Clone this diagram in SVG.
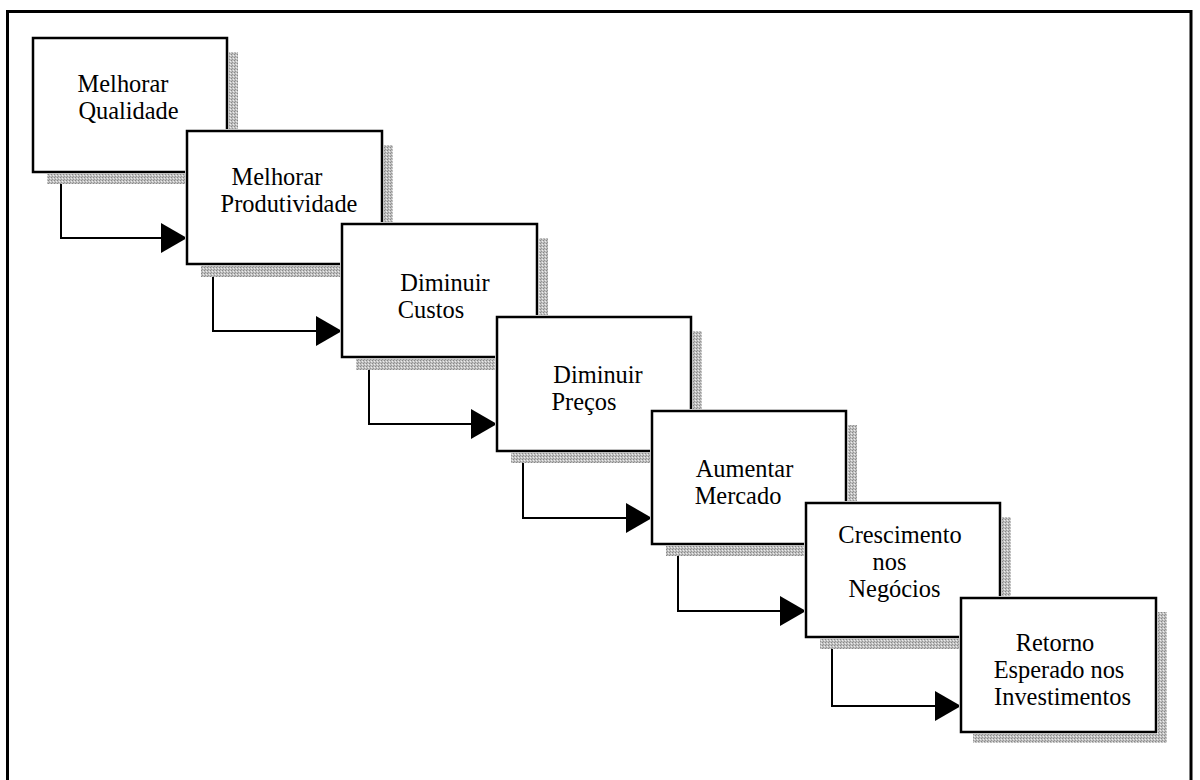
<svg xmlns="http://www.w3.org/2000/svg" width="1200" height="780" viewBox="0 0 1200 780">
  <defs>
    <!-- speckled grey used for the drop shadows -->
    <pattern id="dither" width="3" height="3" patternUnits="userSpaceOnUse">
      <rect width="3" height="3" fill="#c0c0c0"/>
      <rect x="0" y="0" width="1" height="1" fill="#888"/>
      <rect x="2" y="1" width="1" height="1" fill="#eee"/>
      <rect x="1" y="2" width="1" height="1" fill="#969696"/>
    </pattern>
    <marker id="arrow" markerUnits="userSpaceOnUse" markerWidth="26" markerHeight="30" viewBox="0 0 26 30" refX="26" refY="15" orient="auto">
      <path d="M0,0 L26,15 L0,30 Z" fill="#000"/>
    </marker>
    <style>
      .shadow { fill: url(#dither); }
      .gap { fill: #fff; }
      .box { fill: #fff; stroke: #000; stroke-width: 2.5; }
      .label { font-family: "Liberation Serif", "Times New Roman", serif; font-size: 24.4px; fill: #000; text-anchor: middle; }
      .link { fill: none; stroke: #000; stroke-width: 2; }
    </style>
  </defs>

  <rect width="1200" height="780" fill="#fff"/>
  <!-- outer frame (runs off the bottom edge) -->
  <rect x="7.5" y="11.5" width="1183.5" height="800" fill="none" stroke="#000" stroke-width="3"/>

  <g id="connectors">
    <path class="link" d="M61,183 V238 H187" marker-end="url(#arrow)"/>
    <path class="link" d="M213,277 V331 H342" marker-end="url(#arrow)"/>
    <path class="link" d="M369,370 V424 H497" marker-end="url(#arrow)"/>
    <path class="link" d="M523,463 V518 H652" marker-end="url(#arrow)"/>
    <path class="link" d="M678,556 V611 H806" marker-end="url(#arrow)"/>
    <path class="link" d="M832,649 V706 H961" marker-end="url(#arrow)"/>
  </g>

  <g id="n1">
    <rect class="shadow" x="47" y="52" width="191" height="132"/>
    <rect class="gap" x="31" y="36" width="198" height="138"/>
    <rect class="box" x="33" y="38" width="194" height="134"/>
    <text class="label" x="123" y="92">Melhorar</text>
    <text class="label" x="128.5" y="119">Qualidade</text>
  </g>

  <g id="n2">
    <rect class="shadow" x="201" y="145" width="192" height="132"/>
    <rect class="gap" x="185" y="129" width="199" height="137"/>
    <rect class="box" x="187" y="131" width="195" height="133"/>
    <text class="label" x="277" y="185">Melhorar</text>
    <text class="label" x="289" y="212">Produtividade</text>
  </g>

  <g id="n3">
    <rect class="shadow" x="356" y="238" width="192" height="132"/>
    <rect class="gap" x="340" y="222" width="199" height="137"/>
    <rect class="box" x="342" y="224" width="195" height="133"/>
    <text class="label" x="445" y="291">Diminuir</text>
    <text class="label" x="431" y="318">Custos</text>
  </g>

  <g id="n4">
    <rect class="shadow" x="511" y="331" width="191" height="132"/>
    <rect class="gap" x="495" y="315" width="198" height="138"/>
    <rect class="box" x="497" y="317" width="194" height="134"/>
    <text class="label" x="598" y="383">Diminuir</text>
    <text class="label" x="584" y="410">Preços</text>
  </g>

  <g id="n5">
    <rect class="shadow" x="666" y="425" width="191" height="131"/>
    <rect class="gap" x="650" y="409" width="198" height="137"/>
    <rect class="box" x="652" y="411" width="194" height="133"/>
    <text class="label" x="744.5" y="477">Aumentar</text>
    <text class="label" x="738" y="504">Mercado</text>
  </g>

  <g id="n6">
    <rect class="shadow" x="820" y="517" width="191" height="132"/>
    <rect class="gap" x="804" y="501" width="198" height="138"/>
    <rect class="box" x="806" y="503" width="194" height="134"/>
    <text class="label" x="900" y="543">Crescimento</text>
    <text class="label" x="889.5" y="570">nos</text>
    <text class="label" x="894.5" y="597">Negócios</text>
  </g>

  <g id="n7">
    <rect class="shadow" x="973" y="612" width="194" height="131"/>
    <rect class="gap" x="959" y="596" width="199" height="138"/>
    <rect class="box" x="961" y="598" width="195" height="134"/>
    <text class="label" x="1055" y="651">Retorno</text>
    <text class="label" x="1059" y="678">Esperado nos</text>
    <text class="label" x="1062.5" y="705">Investimentos</text>
  </g>
</svg>
